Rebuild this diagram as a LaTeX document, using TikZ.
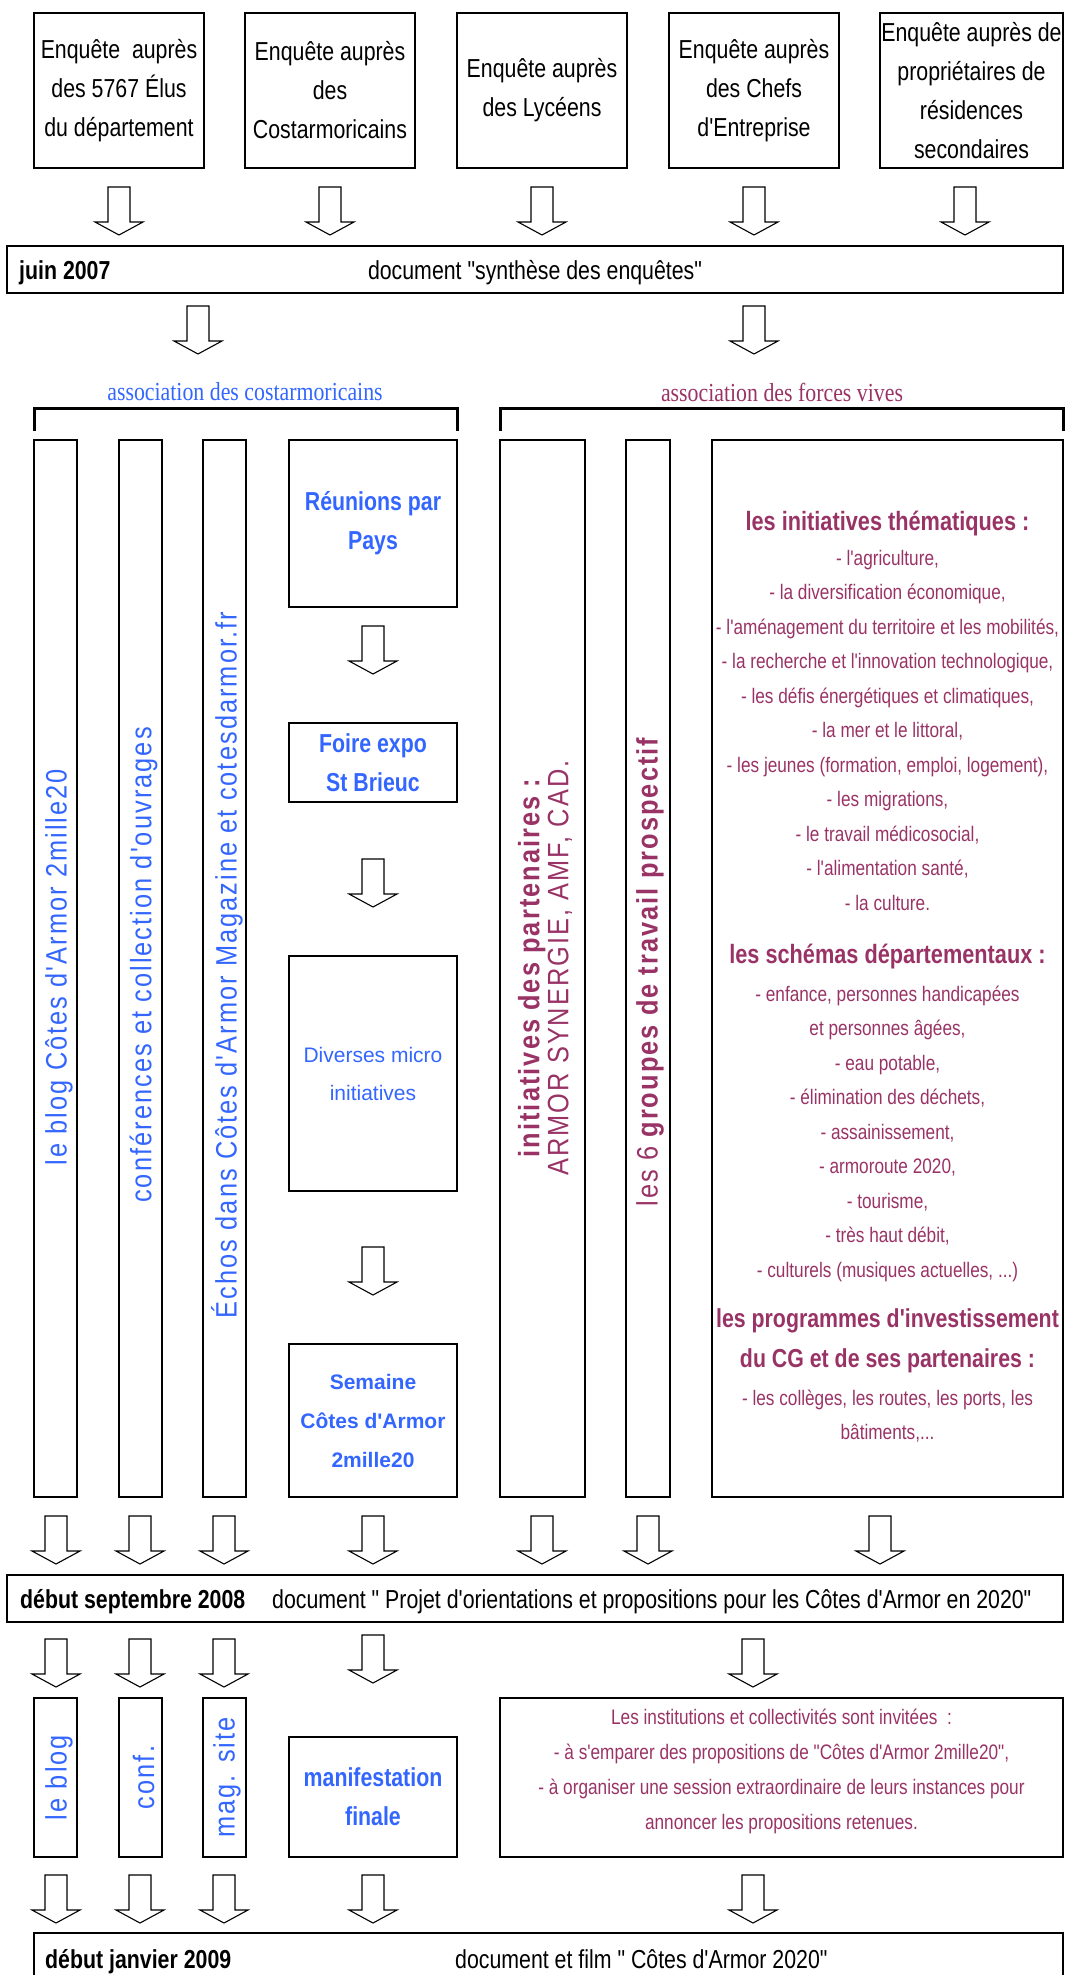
\documentclass[tikz,border=0pt]{standalone}
\usepackage{fontspec}
\setmainfont{Liberation Sans}[Ligatures=TeXOff]
\newfontfamily\narrow{Liberation Sans}[FakeStretch=0.82,Ligatures=TeXOff]
\newfontfamily\plainsans{Liberation Sans}[Ligatures=TeXOff]
\newfontfamily\spaced{Liberation Sans}[FakeStretch=0.86,LetterSpace=7,Ligatures=TeXOff]
\newfontfamily\serifn{Liberation Serif}[FakeStretch=0.84,Ligatures=TeXOff]
\definecolor{cblue}{HTML}{3366FF}
\definecolor{cplum}{HTML}{993366}
\newcommand\fsz[2]{\fontsize{#1}{#2}\selectfont}
\newcommand\barrow[2]{\draw[barr] (#1-11,#2) -- (#1+11,#2) -- (#1+11,#2+35) -- (#1+24,#2+35) -- (#1,#2+48) -- (#1-24,#2+35) -- (#1-11,#2+35) -- cycle;}
\begin{document}
\begin{tikzpicture}[x=1pt,y=-1pt,
  box/.style={draw, line width=2.4pt, inner sep=0pt, align=center},
  barr/.style={draw, line width=1.1pt, fill=white, line join=miter},
  brk/.style={line width=3pt},
  topfont/.style={font={\narrow\fsz{26}{39}}},
  bartext/.style={inner sep=0pt, anchor=base west, font={\narrow\fsz{26}{31}}},
  vtext/.style={rotate=90, inner sep=0pt, align=center, font={\spaced\fsz{29.5}{29}}},
  midbold/.style={text=cblue, font={\narrow\fsz{26}{39}\bfseries}}
]
\useasboundingbox (0,0) rectangle (1066,1975);
\clip (0,0) rectangle (1066,1975);

% top boxes
\node[box,topfont,minimum width=170pt,minimum height=155pt] (e1) at (119,90.5) {Enquête\ \ auprès\\des 5767 Élus\\du département};
\node[box,topfont,minimum width=170pt,minimum height=155pt] (e2) at (330,90.5) {Enquête auprès\\des\\Costarmoricains};
\node[box,topfont,minimum width=170pt,minimum height=155pt] (e3) at (542,90.5) {Enquête auprès\\des Lycéens};
\node[box,topfont,minimum width=170pt,minimum height=155pt] (e4) at (754,90.5) {Enquête auprès\\des Chefs\\d'Entreprise};
\node[box,topfont,minimum width=183pt,minimum height=155pt] (e5) at (971.5,90.5) {Enquête auprès de\\propriétaires de\\résidences\\secondaires};

\barrow{119}{187}\barrow{330}{187}\barrow{542}{187}\barrow{754}{187}\barrow{965}{187}

% juin bar
\node[box,minimum width=1056pt,minimum height=47pt] (juin) at (535,269.5) {};
\node[bartext,font={\narrow\fsz{26}{31}\bfseries}] (juint) at (19,279) {juin 2007};
\node[bartext,anchor=base] (juind) at (535,279) {document "synthèse des enquêtes"};

\barrow{198}{306}\barrow{754}{306}

% associations
\node[inner sep=0pt,text=cblue,font={\serifn\fsz{26}{30}}] (assoc1) at (245,392) {association des costarmoricains};
\node[inner sep=0pt,text=cplum,font={\serifn\fsz{26}{30}}] (assoc2) at (782,392) {association des forces vives};
\draw[brk] (34,431) -- (34,408) -- (457,408) -- (457,431);
\draw[brk] (500,431) -- (500,408) -- (1063,408) -- (1063,431);

% tall columns
\node[box,minimum width=43pt,minimum height=1057pt] (c1) at (55.5,968.5) {};
\node[box,minimum width=43pt,minimum height=1057pt] (c2) at (140.5,968.5) {};
\node[box,minimum width=43pt,minimum height=1057pt] (c3) at (224.5,968.5) {};
\node[box,minimum width=85pt,minimum height=1057pt] (c5) at (542.5,968.5) {};
\node[box,minimum width=44pt,minimum height=1057pt] (c6) at (648,968.5) {};
\node[box,minimum width=351pt,minimum height=1057pt] (big) at (887.5,968.5) {};

\node[vtext,text=cblue] (t1) at (59,967) {le blog Côtes d'Armor 2mille20};
\node[vtext,text=cblue] (t2) at (143.5,965) {conférences et collection d'ouvrages};
\node[vtext,text=cblue] (t3) at (227,965) {Échos dans Côtes d'Armor Magazine et cotesdarmor.fr};
\node[vtext,text=cplum] (t5) at (545,968) {{\bfseries initiatives des partenaires :}\\ARMOR SYNERGIE, AMF, CAD.};
\node[vtext,text=cplum] (t6) at (650,972) {les 6 {\bfseries groupes de travail prospectif}};

% middle chain
\node[box,midbold,minimum width=168pt,minimum height=167pt] (reu) at (373,523.5) {Réunions par\\Pays};
\barrow{373}{626}
\node[box,midbold,minimum width=168pt,minimum height=79pt] (foire) at (373,762.5) {Foire expo\\St Brieuc};
\barrow{373}{859}
\node[box,text=cblue,font={\plainsans\fsz{21}{38}},minimum width=168pt,minimum height=235pt] (div) at (373,1073.5) {Diverses micro\\initiatives};
\barrow{373}{1247}
\node[box,text=cblue,font={\plainsans\fsz{21}{39}\bfseries},minimum width=168pt,minimum height=153pt] (sem) at (373,1420.5) {Semaine\\Côtes d'Armor\\2mille20};

% big box text
\node[inner sep=0pt,align=center,text=cplum,font={\narrow\fsz{21}{34.5}}] (bigt) at (887.5,977) {%
{\fsz{26.5}{34.5}\bfseries les initiatives thématiques :}\\
- l'agriculture,\\
- la diversification économique,\\
- l'aménagement du territoire et les mobilités,\\
- la recherche et l'innovation technologique,\\
- les défis énergétiques et climatiques,\\
- la mer et le littoral,\\
- les jeunes (formation, emploi, logement),\\
- les migrations,\\
- le travail médicosocial,\\
- l'alimentation santé,\\
- la culture.\\[18.5pt]
{\fsz{26.5}{34.5}\bfseries les schémas départementaux :}\\[3.5pt]
- enfance, personnes handicapées\\
et personnes âgées,\\
- eau potable,\\
- élimination des déchets,\\
- assainissement,\\
- armoroute 2020,\\
- tourisme,\\
- très haut débit,\\
- culturels (musiques actuelles, ...)\\[15.5pt]
{\fsz{26}{34.5}\bfseries les programmes d'investissement}\\[5.5pt]
{\fsz{26}{34.5}\bfseries du CG et de ses partenaires :}\\[3.5pt]
- les collèges, les routes, les ports, les\\
bâtiments,...};

% arrows to september bar
\barrow{56}{1516}\barrow{140}{1516}\barrow{224}{1516}\barrow{373}{1516}\barrow{542}{1516}\barrow{648}{1516}\barrow{880}{1516}

% september bar
\node[box,minimum width=1056pt,minimum height=47pt] (sept) at (535,1598.5) {};
\node[bartext,font={\narrow\fsz{26}{31}\bfseries}] (septt) at (20,1608) {début septembre 2008};
\node[bartext] (septd) at (272,1608) {document " Projet d'orientations et propositions pour les Côtes d'Armor en 2020"};

\barrow{56}{1639}\barrow{140}{1639}\barrow{224}{1639}\barrow{373}{1635}\barrow{753}{1639}

% bottom row
\node[box,minimum width=43pt,minimum height=159pt] (b1) at (55.5,1777.5) {};
\node[box,minimum width=43pt,minimum height=159pt] (b2) at (140.5,1777.5) {};
\node[box,minimum width=43pt,minimum height=159pt] (b3) at (224.5,1777.5) {};
\node[vtext,text=cblue] (bt1) at (59,1777.5) {le blog};
\node[vtext,text=cblue] (bt2) at (143.5,1777.5) {conf.};
\node[vtext,text=cblue] (bt3) at (227,1777.5) {mag. site};
\node[box,midbold,minimum width=168pt,minimum height=120pt] (manif) at (373,1797) {manifestation\\finale};
\node[box,minimum width=563pt,minimum height=159pt] (inst) at (781.5,1777.5) {};
\node[inner sep=0pt,align=center,text=cplum,font={\narrow\fsz{21}{35}}] (instt) at (781.5,1771) {Les institutions et collectivités sont invitées\ \ :\\
- à s'emparer des propositions de "Côtes d'Armor 2mille20",\\
- à organiser une session extraordinaire de leurs instances pour\\
annoncer les propositions retenues.};

\barrow{56}{1875}\barrow{140}{1875}\barrow{224}{1875}\barrow{373}{1875}\barrow{753}{1875}

% january bar
\node[box,minimum width=1029pt,minimum height=60pt] (janv) at (548.5,1963) {};
\node[bartext,font={\narrow\fsz{26}{31}\bfseries}] (janvt) at (45,1968) {début janvier 2009};
\node[bartext] (janvd) at (455,1968) {document et film " Côtes d'Armor 2020"};
\end{tikzpicture}
\end{document}
